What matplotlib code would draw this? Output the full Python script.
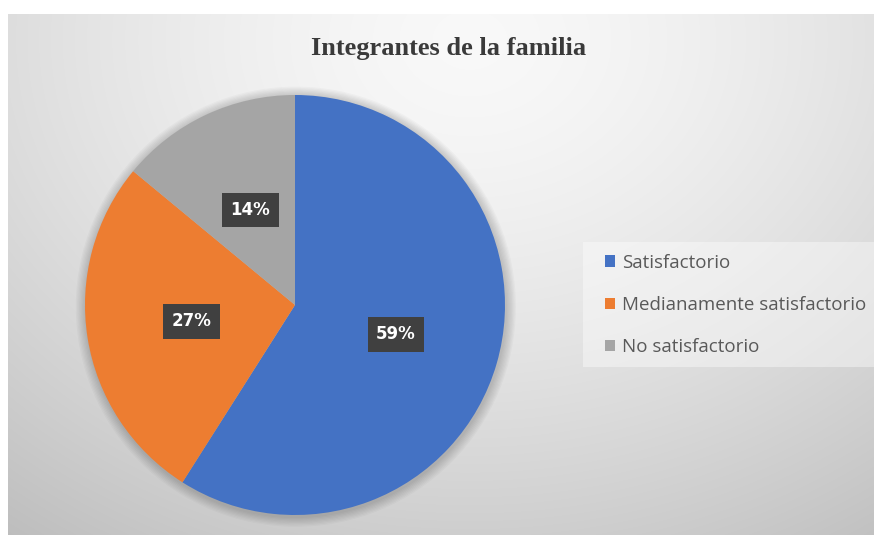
import numpy as np
import matplotlib
matplotlib.use("Agg")
import matplotlib.pyplot as plt
from matplotlib.patches import Patch, Rectangle, Circle

# Data
categories = ["Satisfactorio", "Medianamente satisfactorio", "No satisfactorio"]
values = [59, 27, 14]
colors = ["#4472C4", "#ED7D31", "#A5A5A5"]
title = "Integrantes de la familia"

W, H = 874, 535
fig = plt.figure(figsize=(W / 100, H / 100), dpi=100)
fig.patch.set_facecolor("white")

# Chart-area background with a soft radial grey gradient
x0, y0 = 8, 14
bg_ax = fig.add_axes([x0 / W, 0, (W - x0) / W, (H - y0) / H])
bg_ax.set_axis_off()
xs = np.arange(x0, W) + 0.5
ys = np.arange(y0, H) + 0.5
X, Y = np.meshgrid(xs, ys)
t = np.sqrt(((X - 470) / 700.0) ** 2 + ((Y - 40) / 560.0) ** 2)
g = np.clip(0.975 - 0.2 * t ** 1.5, 0, 1)
bg_ax.imshow(np.dstack([g, g, g]), aspect="auto", extent=(0, 1, 0, 1),
             interpolation="bilinear")
bg_ax.set_xlim(0, 1)
bg_ax.set_ylim(0, 1)

# Pie axes: centre (295, 305) px, radius 210 px
cx, cy, r = 295, 305, 210
ax = fig.add_axes([(cx - r) / W, (H - cy - r) / H, 2 * r / W, 2 * r / H])
ax.set_axis_off()
ax.set_xlim(-1, 1)
ax.set_ylim(-1, 1)

# Soft shadow around the pie
for k in range(8):
    ax.add_patch(Circle((0.004, -0.008), 1.0 + 0.006 * (k + 1), fc="#000000",
                        ec="none", alpha=0.025, zorder=0, clip_on=False))

wedges, texts, autotexts = ax.pie(
    values, colors=colors, startangle=90, counterclock=False,
    autopct="%1.0f%%", pctdistance=0.5, radius=1.0,
    wedgeprops=dict(linewidth=0, clip_on=False), frame=False,
)
ax.set_xlim(-1, 1)
ax.set_ylim(-1, 1)
for at in autotexts:
    at.set_color("white")
    at.set_fontsize(12)
    at.set_fontweight("bold")
    at.set_fontfamily("DejaVu Sans")
    at.set_bbox(dict(boxstyle="square,pad=0.5", fc="#404040", ec="none"))

# Title
fig.text(449 / W, 1 - 48 / H, title, ha="center", va="center",
         fontsize=19, fontweight="bold", family="Liberation Serif",
         color="#3a3a3a")

# Legend with a lighter panel behind it
fig.patches.append(Rectangle((583 / W, 1 - 367 / H), (W - 583) / W, 125 / H,
                             transform=fig.transFigure, fc="white", ec="none",
                             alpha=0.4, zorder=1))
handles = [Patch(fc=c, ec="none") for c in colors]
leg = fig.legend(handles, categories, loc="center left",
                 bbox_to_anchor=(588 / W, 1 - 305 / H), frameon=False,
                 handlelength=0.55, handleheight=0.55, handletextpad=0.35,
                 labelspacing=1.3, prop=dict(family="Open Sans", size=13.5))
for txt in leg.get_texts():
    txt.set_color("#595959")

fig.savefig("out.png", dpi=100)
